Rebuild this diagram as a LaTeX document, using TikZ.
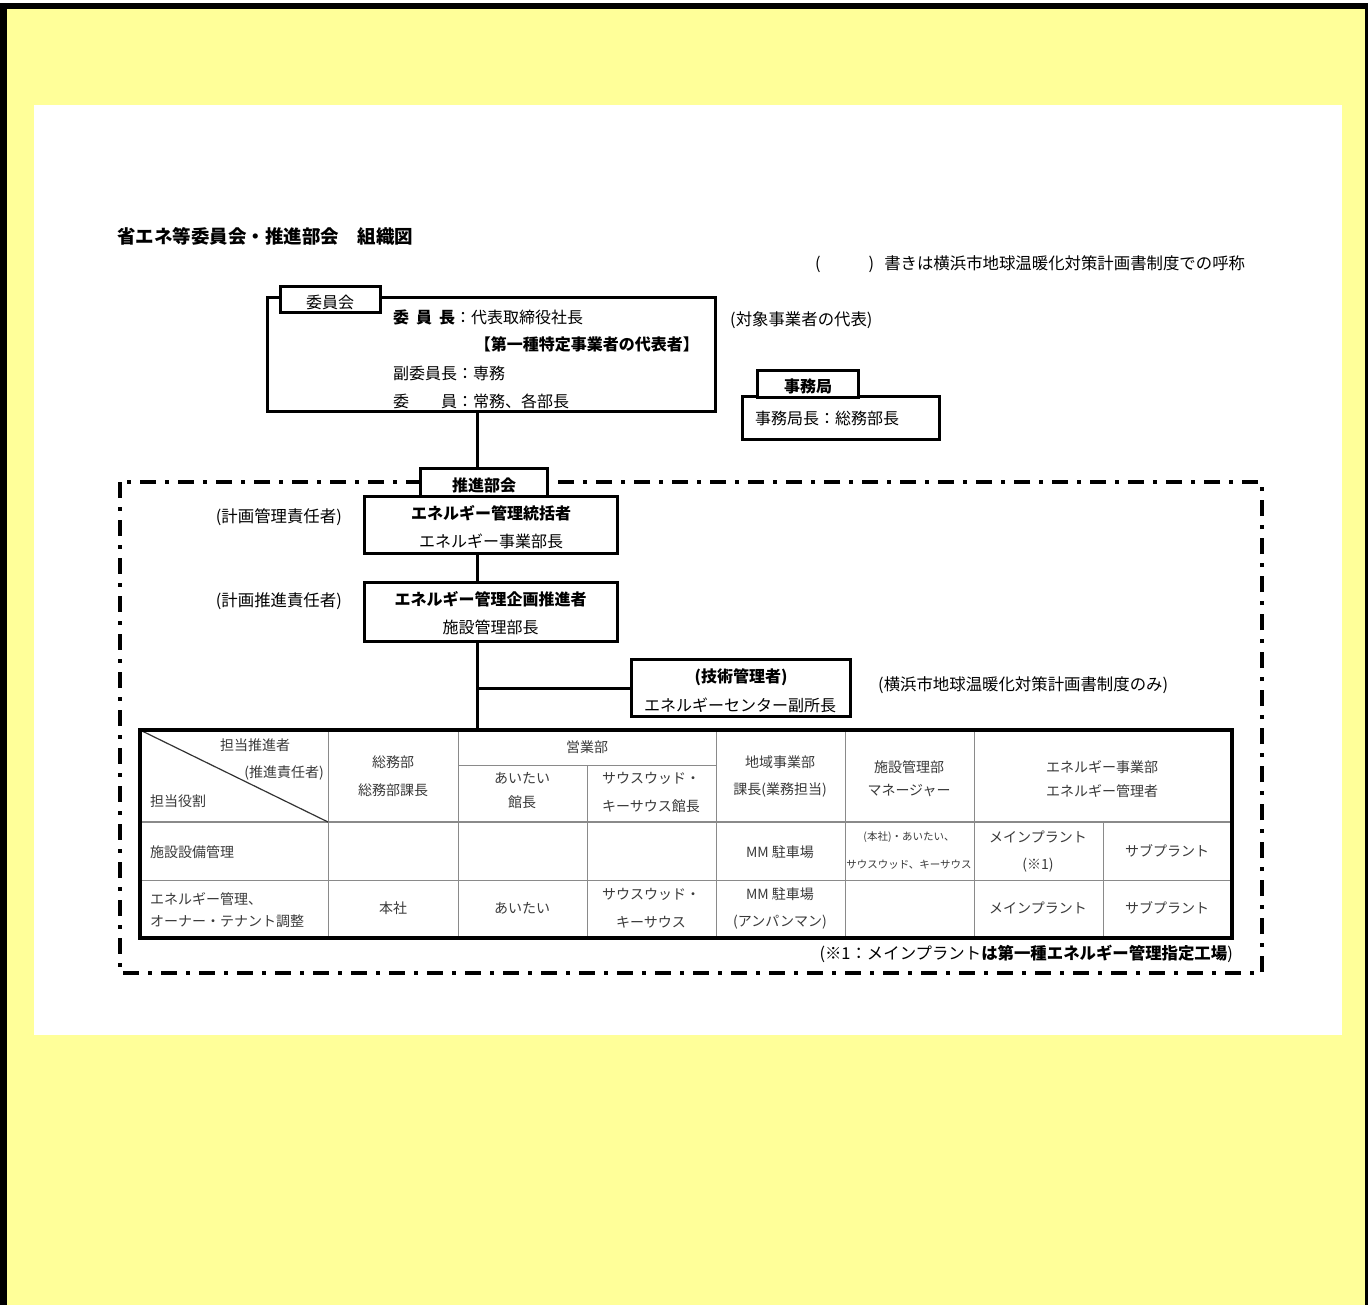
\documentclass[tikz,border=0pt]{standalone}
\usepackage{fontspec}
\setmainfont{Noto Sans CJK JP}
\definecolor{bgyellow}{HTML}{FFFF99}
\definecolor{tabtext}{HTML}{3A3A3A}
\definecolor{tabline}{HTML}{8A8A8A}
\begin{document}
\begin{tikzpicture}[x=1pt,y=-1pt,
  framebox/.style={draw,line width=3pt,fill=white,inner sep=0pt},
  tx/.style={inner sep=0pt,font=\fontsize{16}{18}\selectfont},
  txn/.style={inner sep=0pt,font=\fontsize{16.4}{18}\selectfont},
  txb/.style={inner sep=0pt,font=\fontsize{16}{18}\selectfont\bfseries},
  tt/.style={inner sep=0pt,font=\fontsize{14}{16}\selectfont,text=tabtext},
  ts/.style={inner sep=0pt,font=\fontsize{10.5}{12}\selectfont,text=tabtext},
  conn/.style={line width=3pt},
  grid/.style={line width=1pt,draw=tabline},
  dashdot/.style={line width=3.5pt,dash pattern=on 16pt off 9pt on 4pt off 9pt}
]
\useasboundingbox (0,0) rectangle (1368,1305);
% background and frame
\fill[white] (0,0) rectangle (1368,1305);
\fill[bgyellow] (0,3) rectangle (1368,1305);
\fill[black] (0,3) rectangle (1368,9);
\fill[black] (0,3) rectangle (7,1305);
\fill[black] (1365,3) rectangle (1368,1305);
\fill[white] (34,105) rectangle (1342,1035);

% title and notes
\node[inner sep=0pt,anchor=west,font=\fontsize{18.5}{20}\selectfont\bfseries] (title) at (117,236) {省エネ等委員会・推進部会　組織図};
\node[txn,anchor=west] (noteparen) at (815,264) {(\hspace{48pt})\hspace{10pt}書きは横浜市地球温暖化対策計画書制度での呼称};

% committee
\coordinate (xline) at (477,0);
\node[framebox,minimum width=448pt,minimum height=113pt] (iinkai) at (491,354.5) {};
\node[framebox,minimum width=100pt,minimum height=26pt] (iinkaitab) at (330,300) {};
\node[tx] (iinkailabel) at (330,302) {委員会};
\node[txb,anchor=west] (chair) at (393,317) {委\hspace{7pt}員\hspace{7pt}長\textmd{：代表取締役社長}};
\node[txb,anchor=east] (rep) at (699,344) {【第一種特定事業者の代表者】};
\node[tx,anchor=west] (vice) at (393,373) {副委員長：専務};
\node[tx,anchor=west] (members) at (393,401) {委\hspace{32pt}員：常務、各部長};
\node[txn,anchor=west] (repnote) at (730,320) {(対象事業者の代表)};

% secretariat
\node[framebox,minimum width=197pt,minimum height=42pt] (jimu) at (840.5,418) {};
\node[framebox,minimum width=101pt,minimum height=27pt] (jimutab) at (807.5,384.5) {};
\node[txb] (jimulabel) at (808,386) {事務局};
\node[tx,anchor=west] (jimuhead) at (755,418) {事務局長：総務部長};

% promotion committee (dash-dot frame)
\draw[dashdot] (120,482) rectangle (1262,973);
\node[framebox,minimum width=127pt,minimum height=28pt] (suishintab) at (483.5,482) {};
\node[txb] (suishinlabel) at (484,485) {推進部会};
\draw[conn] (iinkai.south -| xline) -- (suishintab.north -| xline);

\node[framebox,minimum width=253pt,minimum height=57pt] (tokatsu) at (490.5,524.5) {};
\node[txb] (tokatsu1) at (491,513) {エネルギー管理統括者};
\node[tx] (tokatsu2) at (491,541) {エネルギー事業部長};
\node[txn,anchor=east] (tokatsunote) at (342,517) {(計画管理責任者)};

\node[framebox,minimum width=253pt,minimum height=59pt] (kikaku) at (490.5,611.5) {};
\node[txb] (kikaku1) at (490.5,599) {エネルギー管理企画推進者};
\node[tx] (kikaku2) at (490.5,627) {施設管理部長};
\node[txn,anchor=east] (kikakunote) at (342,601) {(計画推進責任者)};
\draw[conn] (tokatsu.south -| xline) -- (kikaku.north -| xline);

\node[framebox,minimum width=219pt,minimum height=57pt] (gijutsu) at (740.5,687.5) {};
\node[txb] (gijutsu1) at (741,677) {(技術管理者)};
\node[tx] (gijutsu2) at (740,705) {エネルギーセンター副所長};
\node[txn,anchor=west] (gijutsunote) at (878,685) {(横浜市地球温暖化対策計画書制度のみ)};

% table
\coordinate (tabtop) at (477,730);
\coordinate (branch) at (477,688);
\draw[conn] (kikaku.south -| xline) -- (tabtop);
\draw[conn] (branch) -- (branch -| gijutsu.west);

\draw[grid] (328,730) -- (328,938);
\draw[grid] (458,730) -- (458,938);
\draw[grid] (587,765) -- (587,938);
\draw[grid] (716,730) -- (716,938);
\draw[grid] (845,730) -- (845,938);
\draw[grid] (974,730) -- (974,938);
\draw[grid] (1103,822) -- (1103,938);
\draw[grid] (458,765) -- (716,765);
\draw[line width=2.2pt,draw=tabline] (140,822) -- (1232,822);
\draw[grid] (140,880) -- (1232,880);
\draw[line width=1.2pt,draw=black!80] (140,730) -- (328,822);
\draw[line width=3.5pt] (140,730) rectangle (1232,938);

% header
\node[tt] (h1) at (255,745) {担当推進者};
\node[tt,anchor=east] (h2) at (324,773) {(推進責任者)};
\node[tt,anchor=west] (h3) at (150,801) {担当役割};
\node[tt] (c1a) at (393,762) {総務部};
\node[tt] (c1b) at (393,790) {総務部課長};
\node[tt] (c2) at (587,747) {営業部};
\node[tt] (c2aa) at (522,778) {あいたい};
\node[tt] (c2ab) at (522,802) {館長};
\node[tt] (c2ba) at (651,778) {サウスウッド・};
\node[tt] (c2bb) at (651,806) {キーサウス館長};
\node[tt] (c3a) at (780,762) {地域事業部};
\node[tt] (c3b) at (780,790) {課長(業務担当)};
\node[tt] (c4a) at (909,767) {施設管理部};
\node[tt] (c4b) at (909,791) {マネージャー};
\node[tt] (c5a) at (1102,767) {エネルギー事業部};
\node[tt] (c5b) at (1102,791) {エネルギー管理者};

% row 1
\node[tt,anchor=west] (r1) at (150,852) {施設設備管理};
\node[tt] (r1c3) at (780,852) {MM 駐車場};
\node[ts] (r1c4a) at (909,837) {(本社)・あいたい、};
\node[ts] (r1c4b) at (909,865) {サウスウッド、キーサウス};
\node[tt] (r1c5a) at (1038,837) {メインプラント};
\node[tt] (r1c5b) at (1038,865) {(※1)};
\node[tt] (r1c6) at (1167,851) {サブプラント};

% row 2
\node[tt,anchor=west] (r2a) at (150,899) {エネルギー管理、};
\node[tt,anchor=west] (r2b) at (150,921) {オーナー・テナント調整};
\node[tt] (r2c1) at (393,908) {本社};
\node[tt] (r2c2a) at (522,908) {あいたい};
\node[tt] (r2c2ba) at (651,894) {サウスウッド・};
\node[tt] (r2c2bb) at (651,922) {キーサウス};
\node[tt] (r2c3a) at (780,894) {MM 駐車場};
\node[tt] (r2c3b) at (780,922) {(アンパンマン)};
\node[tt] (r2c5) at (1038,908) {メインプラント};
\node[tt] (r2c6) at (1167,908) {サブプラント};

% footnote
\node[txn,anchor=east] (foot) at (1233,954) {(※1：メインプラント\textbf{は第一種エネルギー管理指定工場})};
\end{tikzpicture}
\end{document}
